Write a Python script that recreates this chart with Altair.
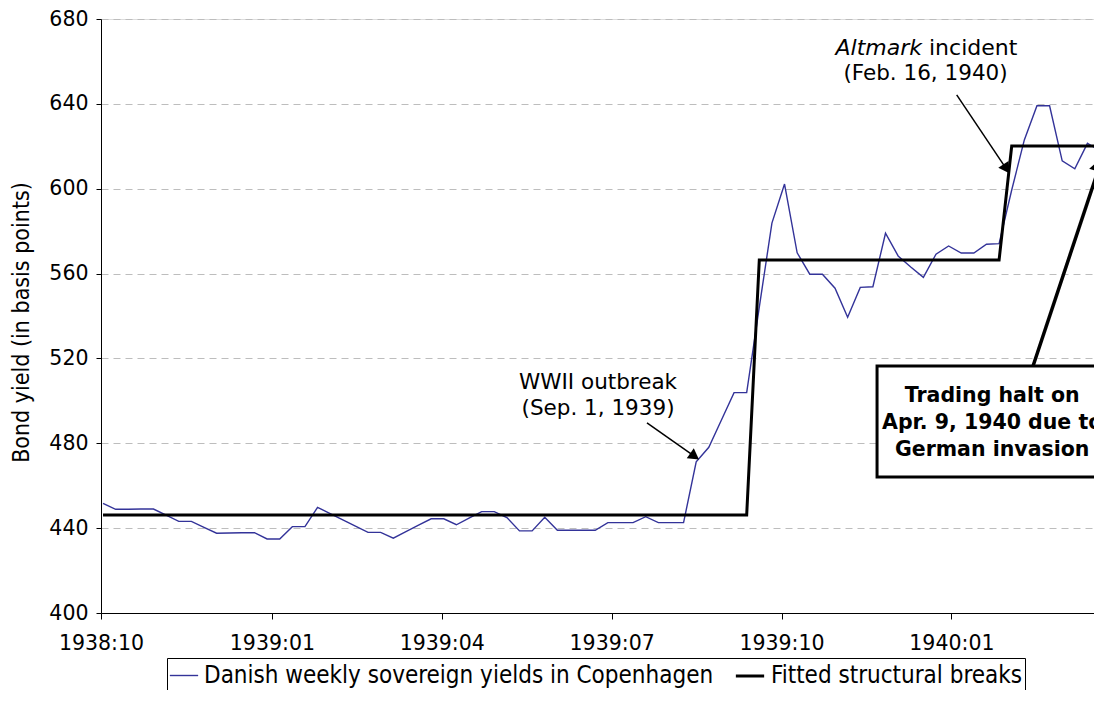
import math
import altair as alt
import pandas as pd

# ---------------- data ----------------
week_index = list(range(80))
danish_yields = [
    451.7, 448.9, 448.9, 449.0, 449.0, 446.1, 443.2, 443.2, 440.4, 437.6,
    437.7, 437.8, 437.9, 434.9, 434.9, 440.7, 440.7, 449.8, 446.9, 443.9,
    441.0, 438.0, 438.0, 435.3, 438.3, 441.4, 444.4, 444.4, 441.6, 444.7,
    447.8, 447.8, 445.0, 438.7, 438.7, 445.1, 439.0, 439.0, 439.0, 439.0,
    442.6, 442.6, 442.6, 445.4, 442.6, 442.6, 442.6, 471.3, 478.1, 491.0,
    503.9, 503.9, 544.2, 583.8, 602.2, 569.8, 559.7, 559.7, 553.1, 539.4,
    553.5, 553.8, 579.0, 568.3, 563.1, 558.2, 569.1, 573.0, 569.7, 569.7,
    573.8, 574.1, 599.4, 623.0, 639.1, 639.1, 613.1, 609.4, 621.4, 617.8,
]
fit_weeks = [0, 51, 52, 71, 72, 79]
fit_values = [446.2, 446.2, 566.4, 566.4, 620.1, 620.1]

tick_weeks = [-0.16, 13.38, 26.84, 40.3, 53.76, 67.22]
tick_labels = ["1938:10", "1939:01", "1939:04", "1939:07", "1939:10", "1940:01"]
y_ticks = [400, 440, 480, 520, 560, 600, 640, 680]

S1 = "Danish weekly sovereign yields in Copenhagen"
S2 = "Fitted structural breaks"

# annotation anchors (in data units)
wwii_lines = ["WWII outbreak", "(Sep. 1, 1939)"]
wwii_pos = [(39.22, 508.4), (39.22, 496.2)]
altmark_pos_line1 = (65.13, 666.3)
altmark_line2 = "(Feb. 16, 1940)"
altmark_pos_line2 = (65.17, 654.1)
halt_lines = ["Trading halt on", "Apr. 9, 1940 due to", "German invasion"]
halt_pos = [(70.45, 502.3), (70.45, 489.6), (70.45, 476.8)]
halt_box = (61.33, 90.0, 464.1, 516.4)
arrows = [  # start week, start value, tip week, tip value, line width, head size
    (43.1, 489.6, 47.22, 472.4, 1.5, 150),
    (67.64, 644.2, 71.81, 607.3, 1.5, 150),
    (73.69, 516.4, 79.2, 615.0, 3.5, 320),
]

# ---------------- layout ----------------
W, H = 993, 594
XMIN, XMAX = -0.16, 78.52
YMIN, YMAX = 400, 680
FONT = "DejaVu Sans"
COND = "DejaVu Sans Condensed, Liberation Sans Narrow, DejaVu Sans"
XS = W / (XMAX - XMIN)
YS = H / (YMAX - YMIN)

line_df = pd.DataFrame(
    [{"week": w, "value": v, "series": S1} for w, v in zip(week_index, danish_yields)]
    + [{"week": w, "value": v, "series": S2} for w, v in zip(fit_weeks, fit_values)]
)

label_expr = (
    "[" + ",".join("'" + l + "'" for l in tick_labels) + "]"
    + "[indexof([" + ",".join(str(v) for v in tick_weeks) + "], datum.value)]"
)

x_scale = alt.Scale(domain=[XMIN, XMAX], zero=False, nice=False)
y_scale = alt.Scale(domain=[YMIN, YMAX], zero=False, nice=False)

x_axis = alt.Axis(
    values=tick_weeks, labelExpr=label_expr, title=None, grid=False,
    domainColor="black", tickColor="black", tickSize=6,
    labelFont=FONT, labelFontSize=20.5, labelColor="black", labelPadding=14,
    labelFlush=False, labelOverlap=False,
)
y_axis = alt.Axis(
    values=y_ticks, title="Bond yield (in basis points)", grid=True,
    gridDash=[7, 5], gridColor="#bdbdbd", gridWidth=1,
    domainColor="black", tickColor="black", tickSize=5,
    labelFont=FONT, labelFontSize=20.5, labelColor="black", labelPadding=8,
    titleFont=COND, titleFontSize=23, titleFontWeight="normal", titleColor="black",
    titleX=-68, titleY=303, titleAlign="center", titleBaseline="bottom",
)


def X(field="week"):
    return alt.X(f"{field}:Q", scale=x_scale, axis=x_axis)


def Y(field="value"):
    return alt.Y(f"{field}:Q", scale=y_scale, axis=y_axis)


legend = alt.Legend(
    orient="none", legendX=66, legendY=639, direction="horizontal", title=None,
    strokeColor="black", fillColor="white", padding=2, cornerRadius=0,
    labelFont=COND, labelFontSize=24, labelColor="black", labelLimit=1000,
    symbolType="stroke", symbolSize=800, columnPadding=15, labelOffset=5,
)

lines = alt.Chart(line_df).mark_line(clip=True).encode(
    x=X(), y=Y(),
    color=alt.Color("series:N", scale=alt.Scale(domain=[S1, S2], range=["#333399", "black"]), legend=legend),
    strokeWidth=alt.StrokeWidth("series:N", scale=alt.Scale(domain=[S1, S2], range=[1.4, 3]), legend=legend),
)

# halt box
box_df = pd.DataFrame([{"week": halt_box[0], "week2": halt_box[1], "value": halt_box[2], "value2": halt_box[3]}])
box = alt.Chart(box_df).mark_rect(clip=True, fill="white", stroke="black", strokeWidth=3).encode(
    x=X(), x2="week2:Q", y=Y(), y2="value2:Q"
)
halt_df = pd.DataFrame([{"week": p[0], "value": p[1], "t": t} for t, p in zip(halt_lines, halt_pos)])
halt_text = alt.Chart(halt_df).mark_text(
    clip=True, font=FONT, fontSize=20.5, fontWeight="bold", color="black", align="center", baseline="middle"
).encode(x=X(), y=Y(), text="t:N")

# arrows
rule_rows, head_rows = [], []
for x0, y0, x1, y1, lw, hs in arrows:
    dx = (x1 - x0) * XS
    dy = -(y1 - y0) * YS
    L = math.hypot(dx, dy)
    ux, uy = dx / L, dy / L
    h = math.sqrt(3) / 4 * math.sqrt(hs)
    cx = x1 - ux * h / XS
    cy = y1 + uy * h / YS
    ang = math.degrees(math.atan2(dx, -dy)) % 360
    rule_rows.append({"week": x0, "value": y0, "week2": cx, "value2": cy, "lw": lw})
    head_rows.append({"week": cx, "value": cy, "angle": ang, "size": hs})
rules = alt.Chart(pd.DataFrame(rule_rows)).mark_rule(clip=True, color="black").encode(
    x=X(), y=Y(), x2="week2:Q", y2="value2:Q", strokeWidth=alt.StrokeWidth("lw:Q", scale=None, legend=None)
)
heads = alt.Chart(pd.DataFrame(head_rows)).mark_point(
    clip=True, shape="triangle-up", filled=True, color="black", opacity=1, strokeWidth=0
).encode(
    x=X(), y=Y(), angle=alt.Angle("angle:Q", scale=None), size=alt.Size("size:Q", scale=None, legend=None)
)

# annotation texts
ann_df = pd.DataFrame(
    [{"week": p[0], "value": p[1], "t": t} for t, p in zip(wwii_lines, wwii_pos)]
    + [{"week": altmark_pos_line2[0], "value": altmark_pos_line2[1], "t": altmark_line2}]
)
ann = alt.Chart(ann_df).mark_text(
    font=FONT, fontSize=21.5, color="black", align="center", baseline="middle"
).encode(x=X(), y=Y(), text="t:N")

am1 = pd.DataFrame([{"week": altmark_pos_line1[0], "value": altmark_pos_line1[1], "t": "Altmark"}])
am2 = pd.DataFrame([{"week": altmark_pos_line1[0], "value": altmark_pos_line1[1], "t": "incident"}])
altmark_it = alt.Chart(am1).mark_text(
    font=FONT, fontSize=22, fontStyle="italic", color="black", align="right", baseline="middle", dx=-3
).encode(x=X(), y=Y(), text="t:N")
altmark_rest = alt.Chart(am2).mark_text(
    font=FONT, fontSize=22, color="black", align="left", baseline="middle", dx=4
).encode(x=X(), y=Y(), text="t:N")

chart = (
    alt.layer(lines, box, halt_text, rules, heads, ann, altmark_it, altmark_rest)
    .properties(
        width=W, height=H,
        autosize=alt.AutoSizeParams(type="none"),
        padding={"left": 93, "top": 11, "right": 0, "bottom": 77},
    )
    .configure_view(stroke=None)
    .configure(background="white")
)

chart.save("out.html", embed_options={"renderer": "svg", "actions": False})
